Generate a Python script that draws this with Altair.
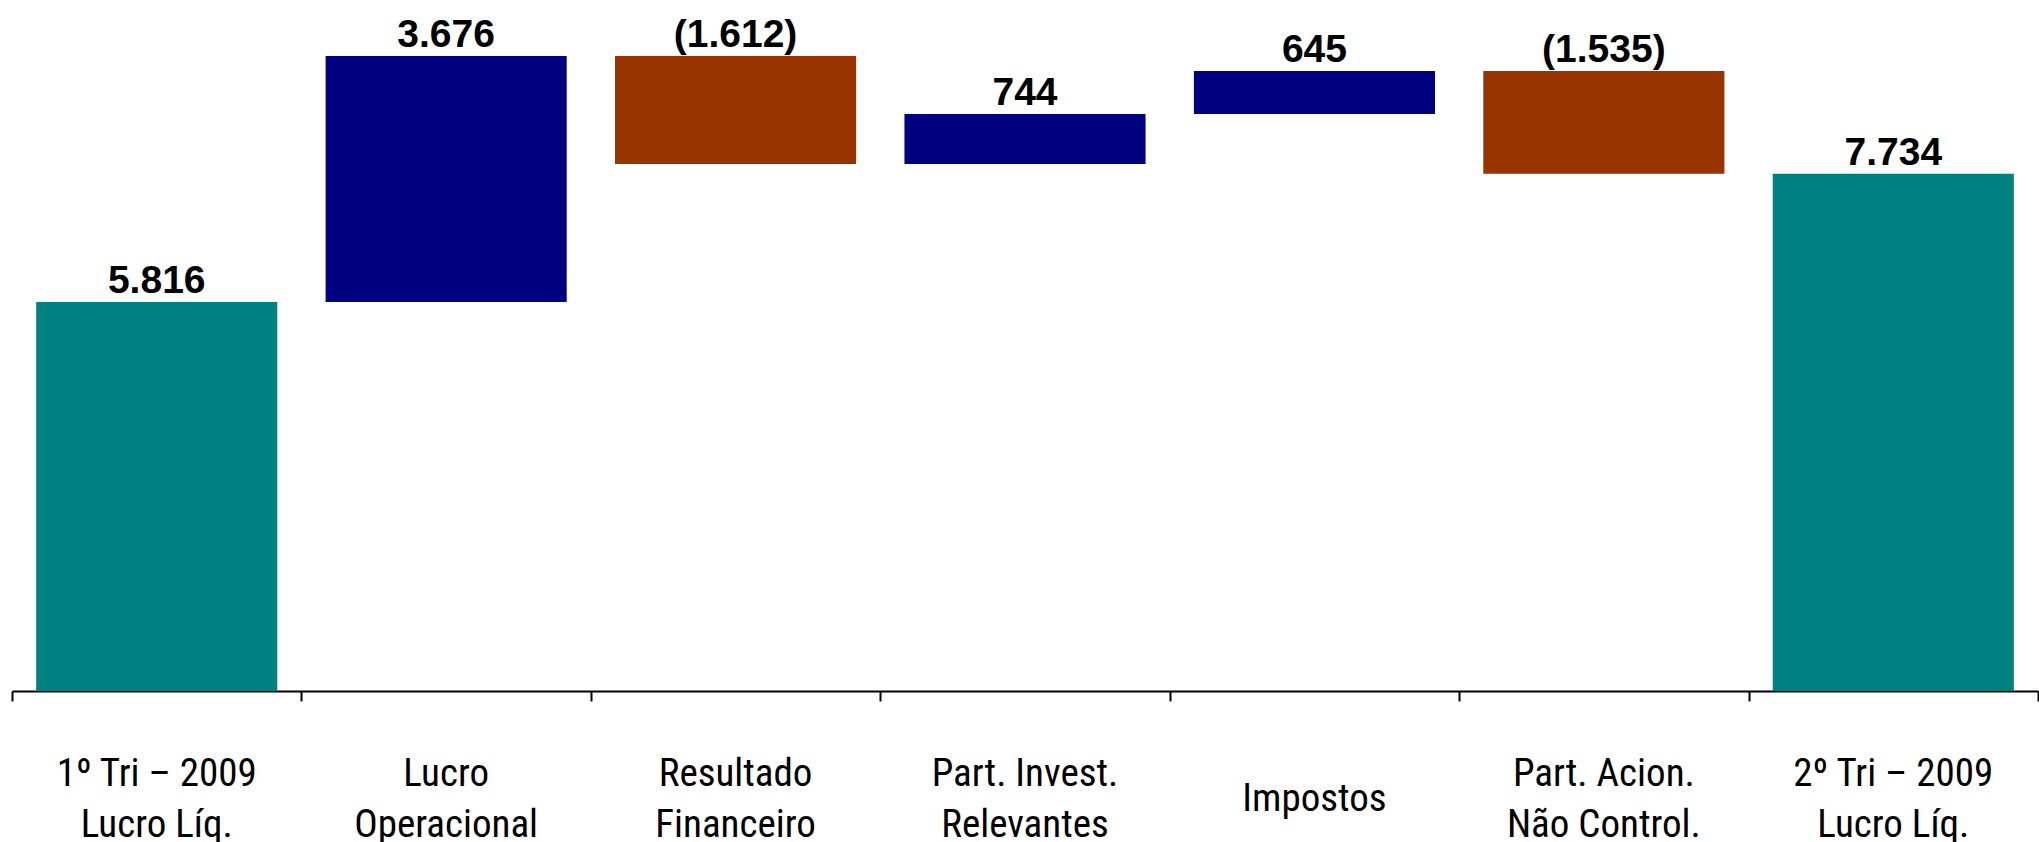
import altair as alt
import pandas as pd

# Bridge from 1st-quarter to 2nd-quarter 2009 net income (R$ million)
categories = [
    "1º Tri – 2009\nLucro Líq.",
    "Lucro\nOperacional",
    "Resultado\nFinanceiro",
    "Part. Invest.\nRelevantes",
    "Impostos",
    "Part. Acion.\nNão Control.",
    "2º Tri – 2009\nLucro Líq.",
]
values = [5816, 3676, -1612, 744, 645, -1535, 7734]
kinds = ["total", "up", "down", "up", "up", "down", "total"]

kind_domain = ["total", "up", "down"]
kind_colors = ["#008080", "#000080", "#993300"]


def fmt(v):
    s = f"{abs(v):,}".replace(",", ".")
    return f"({s})" if v < 0 else s


rows = []
running = 0
for cat, val, kind in zip(categories, values, kinds):
    if kind == "total":
        start, end = 0, val
        running = val
    else:
        start, end = running, running + val
        running = end
    rows.append(
        {
            "category": cat,
            "start": start,
            "end": end,
            "top": max(start, end),
            "kind": kind,
            "label": fmt(val),
            "lines": cat.count("\n") + 1,
        }
    )
df = pd.DataFrame(rows)

label_font = "Liberation Sans Narrow, Arial Narrow, Roboto Condensed, Liberation Sans, sans-serif"

x_scale = alt.Scale(paddingInner=0, paddingOuter=0)

x_enc = alt.X(
    "category:N",
    sort=categories,
    scale=x_scale,
    axis=alt.Axis(
        title=None,
        labels=False,
        tickBand="extent",
        tickSize=10,
        tickWidth=2,
        tickColor="black",
        domainColor="black",
        domainWidth=2,
        grid=False,
    ),
)

y_scale = alt.Scale(domain=[0, 10330], nice=False, zero=True)

bars = alt.Chart(df).mark_bar(width=alt.RelativeBandSize(0.833)).encode(
    x=x_enc,
    y=alt.Y("start:Q", scale=y_scale, axis=None),
    y2="end:Q",
    color=alt.Color(
        "kind:N",
        scale=alt.Scale(domain=kind_domain, range=kind_colors),
        legend=None,
    ),
)

values_text = alt.Chart(df).mark_text(
    font="Liberation Sans, Arial, sans-serif",
    fontWeight="bold",
    fontSize=39,
    baseline="alphabetic",
    align="center",
    dy=-9,
    color="black",
).encode(
    x=alt.X("category:N", sort=categories),
    y=alt.Y("top:Q", scale=y_scale, axis=None),
    text="label:N",
)

# category names under the axis; one-line names sit between the two rows
cat_style = dict(
    font=label_font,
    fontSize=39,
    lineHeight=51,
    lineBreak="\n",
    baseline="middle",
    align="center",
    color="black",
)
cat_two = (
    alt.Chart(df)
    .transform_filter("datum.lines > 1")
    .mark_text(**cat_style)
    .encode(x=alt.X("category:N", sort=categories), y=alt.value(774), text="category:N")
)
cat_one = (
    alt.Chart(df)
    .transform_filter("datum.lines == 1")
    .mark_text(**cat_style)
    .encode(x=alt.X("category:N", sort=categories), y=alt.value(799), text="category:N")
)

chart = (
    alt.layer(bars, values_text, cat_two, cat_one)
    .properties(
        width=2026,
        height=691,
        padding={"left": 12, "top": 0, "right": 1, "bottom": 151},
        autosize=alt.AutoSizeParams(type="none"),
        background="white",
    )
    .configure_view(stroke=None)
)

chart.save("out.html", embed_options={"renderer": "svg", "actions": False})
